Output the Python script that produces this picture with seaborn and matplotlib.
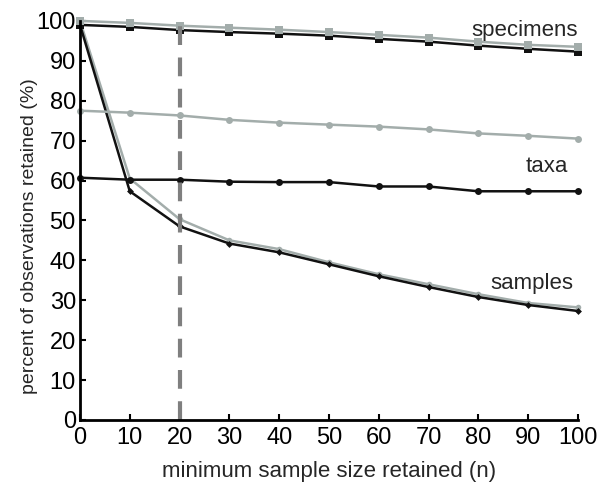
import matplotlib
matplotlib.use("Agg")
import matplotlib.pyplot as plt
import seaborn as sns
import pandas as pd

n = [0, 10, 20, 30, 40, 50, 60, 70, 80, 90, 100]
specimens_black = [99.0, 98.5, 97.7, 97.2, 96.8, 96.3, 95.5, 94.8, 93.8, 93.0, 92.3]
specimens_gray = [100.0, 99.5, 98.8, 98.3, 97.8, 97.2, 96.5, 95.8, 94.8, 94.0, 93.5]
taxa_gray = [77.5, 77.0, 76.3, 75.2, 74.5, 74.0, 73.5, 72.8, 71.8, 71.2, 70.5]
taxa_black = [60.7, 60.2, 60.2, 59.7, 59.6, 59.6, 58.5, 58.5, 57.3, 57.3, 57.3]
samples_black = [99.0, 57.3, 48.5, 44.2, 42.0, 39.0, 36.0, 33.3, 30.8, 28.8, 27.3]
samples_gray = [100.0, 60.5, 50.3, 45.0, 42.8, 39.5, 36.5, 34.0, 31.5, 29.3, 28.2]

sns.set_style("white")
plt.rcParams['font.family'] = ['Liberation Sans', 'DejaVu Sans']

fig = plt.figure(figsize=(5.97, 4.86), dpi=100)
ax = fig.add_axes([0.134, 0.136, 0.834, 0.821])

BLACK = "#111111"
GRAY = "#a3adab"

series = [
    (samples_gray, GRAY, "o", 4),
    (samples_black, BLACK, "D", 3.5),
    (taxa_gray, GRAY, "o", 5),
    (taxa_black, BLACK, "o", 5),
    (specimens_black, BLACK, "s", 5.5),
    (specimens_gray, GRAY, "s", 6),
]
for vals, col, mk, ms in series:
    df = pd.DataFrame({"n": n, "v": vals})
    sns.lineplot(data=df, x="n", y="v", ax=ax, color=col, marker=mk,
                 markersize=ms, markeredgewidth=0, linewidth=1.8, clip_on=False)

ax.axvline(20, ymin=0, ymax=1, color="#7f7f7f", linewidth=3, dashes=(4.5, 3))

ax.set_xlim(0, 100)
ax.set_ylim(0, 100)
ax.set_xticks(range(0, 101, 10))
ax.set_yticks(range(0, 101, 10))
for s in ["top", "right"]:
    ax.spines[s].set_visible(False)
for s in ["left", "bottom"]:
    ax.spines[s].set_color("black")
    ax.spines[s].set_linewidth(2)
ax.tick_params(axis="both", direction="in", length=4, width=1.5, colors="black",
               labelsize=17, left=True, bottom=True)
ax.tick_params(axis="x", pad=5)
ax.tick_params(axis="y", pad=3)
ax.set_xlabel("minimum sample size retained (n)", fontsize=16, labelpad=9)
ax.set_ylabel("percent of observations retained (%)", fontsize=14)
ax.yaxis.set_label_coords(-0.085, 0.46)

ax.text(100, 97.7, "specimens", ha="right", va="center", fontsize=16)
ax.text(98, 63.4, "taxa", ha="right", va="center", fontsize=16)
ax.text(99, 34.3, "samples", ha="right", va="center", fontsize=16)

fig.savefig("out.png", dpi=100)
